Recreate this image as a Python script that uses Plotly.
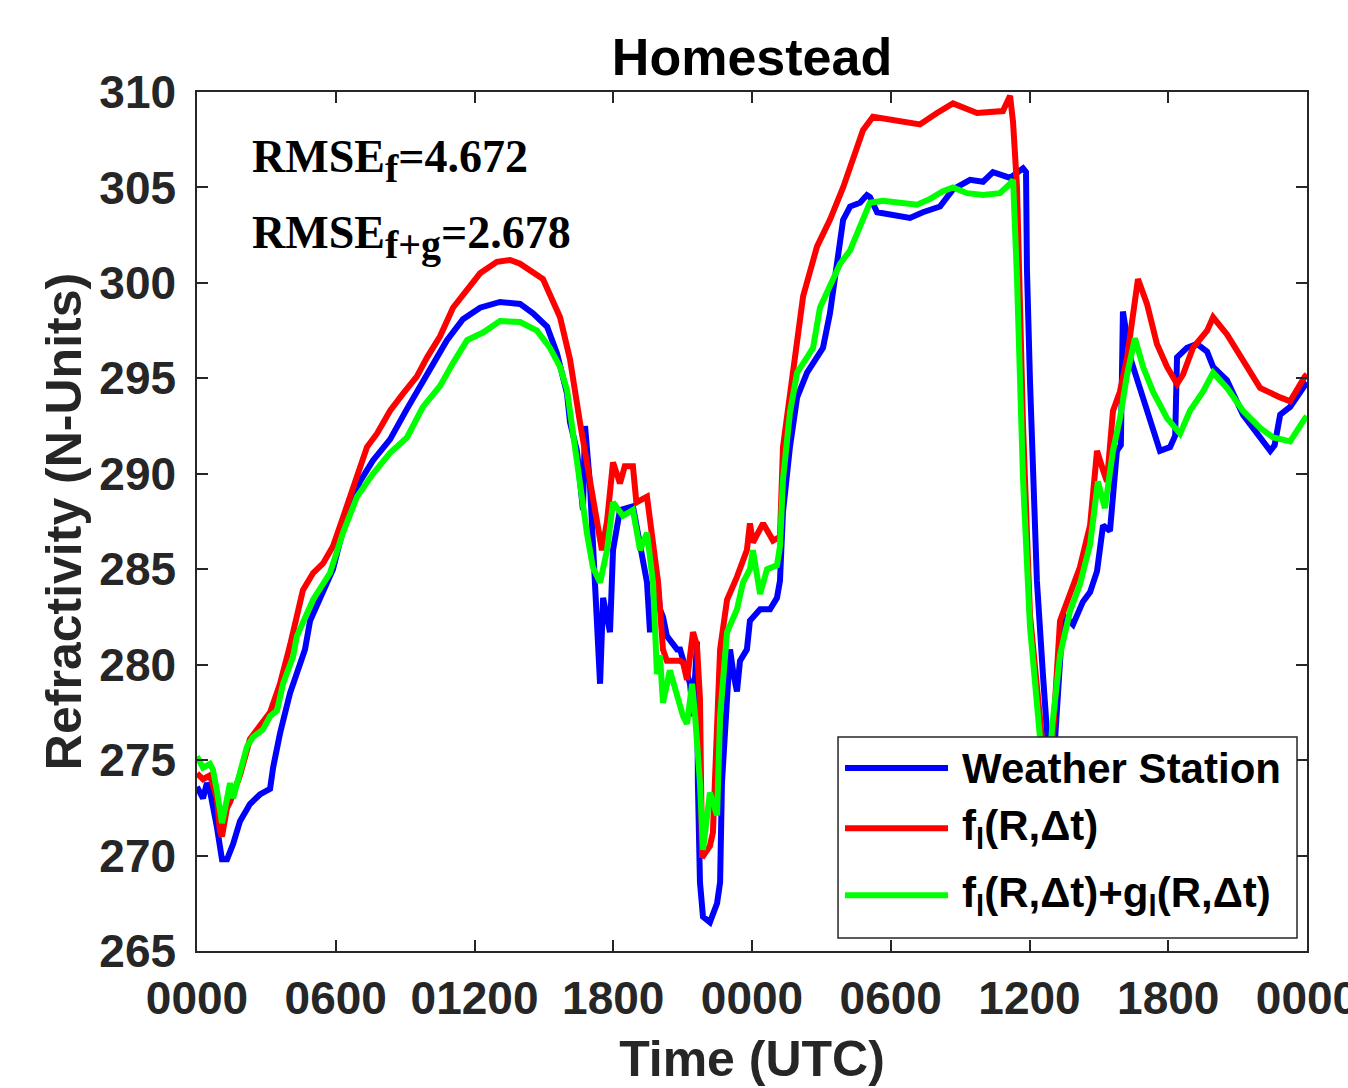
import plotly.graph_objects as go

# Refractivity at Homestead over two days (hours since 0000 UTC on day 1)
ws_hours = [0, 0.26, 0.43, 0.56, 0.86, 0.99, 1.08, 1.30, 1.56, 1.86, 2.29, 2.72, 3.16, 3.29, 3.59,
            4.02, 4.45, 4.67, 4.89, 5.45, 5.88, 6.49, 7.05, 7.61, 8.35, 9.08, 9.64, 10.21, 10.81,
            11.50, 12.24, 13.10, 13.97, 14.53, 15.14, 15.57, 15.83, 16.00, 16.13, 16.43, 16.69,
            16.78, 16.99, 17.12, 17.30, 17.43, 17.56, 17.86, 17.99, 18.29, 18.85, 19.16, 19.46,
            19.59, 19.89, 20.02, 20.15, 20.32, 20.45, 20.76, 20.89, 21.19, 21.32, 21.45, 21.62,
            21.66, 21.75, 21.88, 22.18, 22.49, 22.62, 22.70, 22.92, 23.05, 23.20, 23.35, 23.48,
            23.78, 23.91, 24.35, 24.78, 25.08, 25.21, 25.34, 25.64, 25.95, 26.38, 26.81, 27.07,
            27.37, 27.68, 27.94, 28.24, 28.67, 28.97, 29.10, 29.41, 30.27, 30.83, 31.39, 32.13,
            32.69, 33.43, 33.99, 34.42, 35.16, 35.72, 35.85, 35.89, 36.02, 36.15, 36.32, 36.58,
            36.76, 36.90, 37.02, 37.10, 37.45, 37.88, 38.31, 38.62, 38.92, 39.18, 39.48, 39.78,
            39.95, 40.04, 40.35, 40.78, 41.21, 41.64, 42.08, 42.30, 42.38, 42.81, 43.24, 43.68,
            43.94, 44.54, 45.23, 45.97, 46.41, 46.60, 46.84, 47.27, 47.91, 48]
ws_values = [273.6, 273.0, 273.8, 273.4, 271.5, 270.5, 269.8, 269.8, 270.6, 271.8, 272.7, 273.2,
             273.5, 274.6, 276.4, 278.5, 280.1, 280.8, 282.3, 283.8, 285.0, 287.9, 289.6, 290.7,
             291.8, 293.4, 294.6, 295.8, 297.0, 298.1, 298.7, 299.0, 298.9, 298.4, 297.7, 296.3,
             295.1, 294.2, 292.7, 291.2, 288.1, 292.5, 289.5, 286.0, 282.5, 279.0, 283.5, 281.7,
             286.0, 288.1, 288.3, 286.4, 284.3, 281.7, 284.6, 282.9, 282.5, 281.5, 281.3, 280.8,
             280.8, 279.4, 279.0, 277.3, 281.2, 273.8, 268.6, 266.8, 266.5, 267.5, 268.6, 273.8,
             279.0, 280.8, 279.5, 278.6, 280.2, 280.8, 282.3, 282.9, 282.9, 283.5, 284.4, 288.0,
             291.4, 294.0, 295.3, 296.1, 296.6, 298.4, 300.8, 303.3, 304.0, 304.2, 304.6, 304.5,
             303.7, 303.5, 303.4, 303.7, 304.0, 304.9, 305.4, 305.3, 305.8, 305.5, 306.0, 305.8,
             300.7, 294.9, 289.7, 284.4, 279.5, 276.7, 274.0, 274.0, 276.0, 282.6, 282.1, 283.3,
             283.8, 284.9, 287.3, 287.0, 291.2, 291.5, 298.5, 296.1, 294.5, 292.9, 291.2, 291.4,
             292.0, 296.1, 296.6, 296.8, 296.4, 295.6, 294.9, 293.1, 291.9, 291.2, 291.5, 293.1,
             293.5, 294.7, 294.8]

fl_hours = [0, 0.26, 0.56, 0.86, 0.99, 1.08, 1.30, 1.43, 1.86, 2.29, 2.72, 3.16, 3.59, 3.89, 4.02,
            4.58, 5.02, 5.45, 5.88, 6.31, 6.92, 7.35, 7.78, 8.35, 8.91, 9.51, 9.95, 10.51, 11.07,
            11.68, 12.24, 12.97, 13.54, 13.97, 14.96, 15.70, 16.13, 16.56, 16.99, 17.43, 17.51,
            17.73, 17.99, 18.29, 18.50, 18.85, 19.00, 19.46, 19.72, 19.94, 20.15, 20.32, 20.89,
            21.02, 21.19, 21.45, 21.62, 21.75, 21.84, 22.18, 22.31, 22.62, 22.92, 23.35, 23.78,
            23.91, 24.04, 24.48, 24.91, 25.21, 25.34, 25.64, 25.95, 26.21, 26.81, 27.37, 27.94,
            28.37, 28.80, 29.23, 30.40, 31.26, 32.00, 32.69, 33.73, 34.85, 35.16, 35.29, 35.46,
            35.72, 36.02, 36.45, 36.67, 36.85, 37.00, 37.32, 37.75, 38.18, 38.62, 38.92, 39.18,
            39.35, 39.61, 39.91, 40.22, 40.48, 40.69, 41.08, 41.51, 41.95, 42.38, 42.64, 43.07,
            43.68, 43.94, 44.54, 45.23, 45.97, 46.84, 47.27, 47.91, 48]
fl_values = [274.3, 274.0, 274.2, 273.0, 271.3, 271.0, 272.5, 272.8, 274.2, 276.1, 276.8, 277.5,
             279.0, 280.6, 281.0, 283.9, 284.8, 285.3, 286.2, 287.7, 290.0, 291.4, 292.1, 293.3,
             294.2, 295.1, 296.1, 297.2, 298.7, 299.6, 300.5, 301.1, 301.2, 301.0, 300.2, 298.2,
             296.0, 292.7, 289.5, 286.7, 286.0, 287.5, 290.6, 289.5, 290.4, 290.4, 288.5, 288.8,
             286.0, 284.3, 280.8, 280.2, 280.2, 280.1, 279.2, 281.7, 281.0, 278.2, 269.9, 270.5,
             271.2, 280.8, 283.4, 284.6, 286.0, 287.4, 286.4, 287.4, 286.5, 286.7, 291.4, 294.0,
             296.6, 299.3, 301.9, 303.3, 305.0, 306.6, 308.0, 308.7, 308.5, 308.3, 308.9, 309.4,
             308.9, 309.0, 309.8, 308.4, 305.0, 292.5, 282.6, 276.7, 274.5, 274.0, 276.0, 282.3,
             283.8, 285.1, 287.3, 291.2, 290.2, 289.6, 293.3, 294.3, 296.1, 298.7, 300.2, 298.9,
             296.8, 295.6, 294.7, 295.2, 296.6, 297.5, 298.2, 297.3, 295.9, 294.5, 294.0, 293.8,
             295.1, 295.2]

fg_hours = [0, 0.26, 0.56, 0.69, 0.86, 0.99, 1.08, 1.30, 1.43, 1.56, 1.86, 2.16, 2.42, 2.85, 3.16,
            3.46, 3.72, 4.15, 4.32, 5.02, 5.75, 6.31, 6.92, 7.61, 8.35, 9.08, 9.77, 10.51, 11.07,
            11.68, 12.37, 13.10, 13.97, 14.70, 15.26, 15.70, 16.00, 16.26, 16.56, 16.86, 17.12,
            17.43, 17.73, 17.99, 18.42, 18.85, 19.16, 19.46, 19.72, 19.89, 20.02, 20.15, 20.45,
            20.76, 21.02, 21.19, 21.41, 21.54, 21.75, 21.88, 22.18, 22.49, 22.62, 22.92, 23.35,
            23.61, 23.91, 24.04, 24.35, 24.65, 25.08, 25.21, 25.34, 25.64, 25.95, 26.38, 26.64,
            26.94, 27.37, 27.81, 28.24, 28.54, 28.80, 29.10, 29.66, 30.40, 31.14, 31.70, 32.26,
            32.69, 33.30, 33.99, 34.72, 35.16, 35.29, 35.46, 35.59, 35.72, 36.02, 36.32, 36.58,
            36.80, 37.00, 37.32, 37.75, 38.18, 38.62, 38.96, 39.26, 39.61, 39.91, 40.22, 40.56,
            40.91, 41.34, 41.95, 42.51, 42.94, 43.50, 43.94, 44.54, 45.23, 45.97, 46.54, 47.27,
            47.91, 48]
fg_values = [275.2, 274.6, 274.8, 274.5, 273.4, 272.5, 271.7, 273.0, 273.8, 273.0, 274.5, 275.7,
             276.2, 276.6, 277.3, 277.6, 279.0, 280.4, 281.5, 283.4, 284.8, 286.9, 288.8, 290.0,
             291.1, 291.9, 293.5, 294.6, 295.8, 297.0, 297.4, 298.0, 297.95, 297.5, 296.6, 295.6,
             294.4, 292.1, 289.5, 286.9, 285.1, 284.3, 286.0, 288.5, 287.8, 288.1, 286.0, 286.9,
             284.3, 279.5, 280.5, 278.0, 279.7, 278.3, 277.3, 276.9, 279.0, 277.3, 273.8, 270.3,
             273.3, 272.1, 277.3, 281.7, 282.9, 284.3, 285.0, 286.0, 283.7, 285.0, 285.2, 286.2,
             289.7, 293.2, 295.3, 296.1, 296.6, 298.7, 299.8, 301.0, 301.7, 302.6, 303.5, 304.2,
             304.3, 304.2, 304.1, 304.4, 304.8, 305.0, 304.7, 304.6, 304.7, 305.2, 305.4, 300.2,
             294.9, 289.7, 282.0, 277.5, 274.5, 274.0, 277.0, 280.5, 282.8, 284.2, 286.3, 289.6,
             288.2, 291.2, 292.9, 295.2, 297.1, 295.6, 294.3, 292.9, 292.1, 293.3, 294.3, 295.3,
             294.5, 293.3, 292.4, 291.9, 291.7, 292.9, 293.0]

tick_hours = [0, 6, 12, 18, 24, 30, 36, 42, 48]
tick_labels = ["0000", "0600", "01200", "1800", "0000", "0600", "1200", "1800", "0000"]

series_names = ["Weather Station",
                "f<sub>l</sub>(R,Δt)",
                "f<sub>l</sub>(R,Δt)+g<sub>l</sub>(R,Δt)"]
series_colors = ["#0000FF", "#FF0000", "#00FF00"]

rmse_f = 4.672
rmse_fg = 2.678

SANS = "Liberation Sans, Arial, Helvetica, sans-serif"
SERIF = "Liberation Serif, Times New Roman, serif"
AXIS_COLOR = "#262626"

fig = go.Figure()
for hrs, vals, name, color in zip([ws_hours, fl_hours, fg_hours],
                                  [ws_values, fl_values, fg_values],
                                  series_names, series_colors):
    fig.add_trace(go.Scatter(x=hrs, y=vals, mode="lines", name=name,
                             line=dict(color=color, width=6), showlegend=False))

# Boxed legend in the lower right, drawn over the curves
leg_x0, leg_x1, leg_y0, leg_y1 = 0.5775, 0.9910, 0.0151, 0.2491
fig.add_shape(type="rect", xref="paper", yref="paper", x0=leg_x0, x1=leg_x1, y0=leg_y0, y1=leg_y1,
              fillcolor="white", line=dict(color=AXIS_COLOR, width=1.5), layer="above")
row_y = [0.2130, 0.1430, 0.0650]
for ry, name, color in zip(row_y, series_names, series_colors):
    fig.add_shape(type="line", xref="paper", yref="paper", x0=0.5838, x1=0.6766, y0=ry, y1=ry,
                  line=dict(color=color, width=6), layer="above")
    fig.add_annotation(xref="paper", yref="paper", x=0.6874, y=ry, xanchor="left", yanchor="middle",
                       text=name, showarrow=False,
                       font=dict(family=SANS, size=42, color="black", weight="bold"))

# Error statistics
sub_style = '<span style="font-size:40px">{}</span>'
fig.add_annotation(xref="paper", yref="paper", x=0.0477, y=0.957, xanchor="left", yanchor="top",
                   text="RMSE<sub>" + sub_style.format("f") + f"</sub>={rmse_f:.3f}",
                   showarrow=False,
                   font=dict(family=SERIF, size=46, color="black", weight="bold"))
fig.add_annotation(xref="paper", yref="paper", x=0.0477, y=0.869, xanchor="left", yanchor="top",
                   text="RMSE<sub>" + sub_style.format("f+g") + f"</sub>={rmse_fg:.3f}",
                   showarrow=False,
                   font=dict(family=SERIF, size=46, color="black", weight="bold"))

axis_common = dict(
    showline=True, linecolor=AXIS_COLOR, linewidth=1.5, mirror="ticks",
    ticks="inside", ticklen=11, tickwidth=1.5, tickcolor=AXIS_COLOR,
    showgrid=False, zeroline=False, automargin=False, ticklabeloverflow="allow",
    tickfont=dict(family=SANS, size=46, color="#262626", weight="bold"),
)

fig.update_layout(
    width=1348, height=1088,
    margin=dict(l=197, r=41, t=92, b=137),
    template="none",
    paper_bgcolor="white", plot_bgcolor="white",
    showlegend=False,
    title=dict(text="Homestead", x=0.5, xref="paper", y=0.9476, yref="container",
               xanchor="center", yanchor="middle",
               font=dict(family=SANS, size=52, color="black", weight="bold")),
    xaxis=dict(range=[0, 48], tickvals=tick_hours, ticktext=tick_labels, ticklabelstandoff=6,
               title=dict(text="Time (UTC)", standoff=18,
                          font=dict(family=SANS, size=50, color="#262626", weight="bold")),
               **axis_common),
    yaxis=dict(range=[265, 310], tick0=265, dtick=5, ticklabelstandoff=10,
               title=dict(text="Refractivity (N-Units)", standoff=2,
                          font=dict(family=SANS, size=50, color="#262626", weight="bold")),
               **axis_common),
)

fig.write_html("out.html")
